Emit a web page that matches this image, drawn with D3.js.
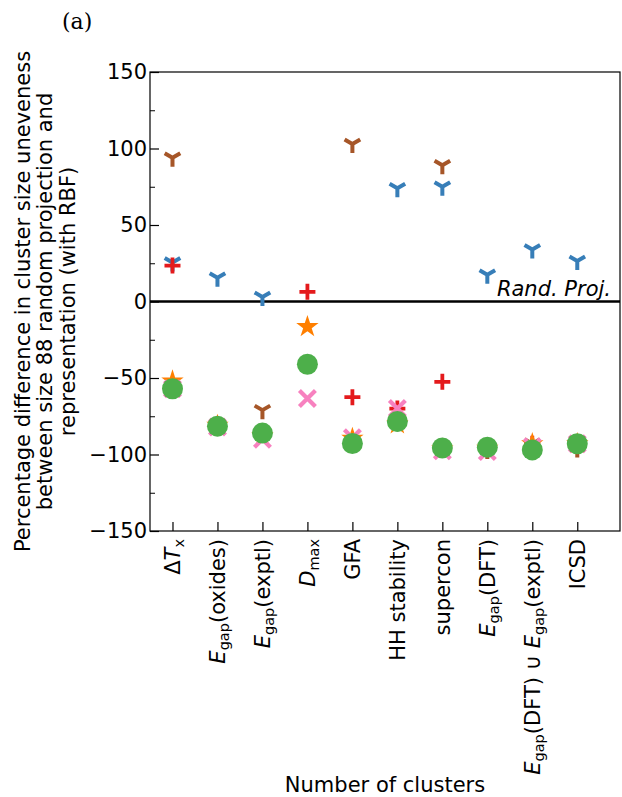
<!DOCTYPE html>
<html>
<head>
<meta charset="utf-8">
<script src="https://cdn.jsdelivr.net/npm/d3@7"></script>
<style>
  body { margin: 0; background: #fff; }
  svg { display: block; font-family: "DejaVu Sans", sans-serif; }
</style>
</head>
<body>
<div id="chart"></div>
<script>
// categories (mini markup: <i>..</i> italic, <sub>..</sub> subscript)
const categories = [
    "Δ<i>T</i><sub>x</sub>",
    "<i>E</i><sub>gap</sub>(oxides)",
    "<i>E</i><sub>gap</sub>(exptl)",
    "<i>D</i><sub>max</sub>",
    "GFA",
    "HH stability",
    "supercon",
    "<i>E</i><sub>gap</sub>(DFT)",
    "<i>E</i><sub>gap</sub>(DFT) ∪ <i>E</i><sub>gap</sub>(exptl)",
    "ICSD"
];

// series values (null = not shown)
const brownTri  = [94, -82, -71, null, 103, -79, 89, -97, -93, -96];
const blueTri   = [25.5, 15.5, 3, null, null, 74, 75, 17.5, 34, 26.5];
const redPlus   = [23.5, -82, -86, 6.3, -62.5, -70, -52.5, -95, -93, -93];
const orangeStar = [-52, -81, -88, -16.5, -89.5, -80, -96.5, -96, -93, -93];
const pinkX     = [-57, -82, -90, -63.4, -89, -70, -97.5, -98, -95, -93];
const greenDot  = [-57, -81.5, -86, -41, -92.8, -78.4, -95.7, -95.2, -97, -93];

const yTicks = [-150, -100, -50, 0, 50, 100, 150];
const yMinorTicks = [-125, -75, -25, 25, 75, 125];

const W = 622, H = 797;
const margin = {top: 72, right: 2, bottom: 266, left: 150};
const width = W - margin.left - margin.right;
const height = H - margin.top - margin.bottom;
const fs = 21;

const svg = d3.select("#chart").append("svg")
    .attr("width", W)
    .attr("height", H);

const x = d3.scaleLinear()
    .domain([-0.5, 9.95])
    .range([margin.left, margin.left + width]);

const y = d3.scaleLinear()
    .domain([-150, 150])
    .range([margin.top + height, margin.top]);

const g = svg.append("g");

// zero line
g.append("line")
    .attr("x1", x(-0.5)).attr("x2", x(9.95))
    .attr("y1", y(0)).attr("y2", y(0))
    .attr("stroke", "#000")
    .attr("stroke-width", 2.5);

g.append("text")
    .attr("x", 611)
    .attr("y", y(0) - 6)
    .attr("text-anchor", "end")
    .attr("font-style", "italic")
    .attr("font-size", fs)
    .text("Rand. Proj.");

// marker paths
const triDown = r => {
    const a = 0.866 * r, b = 0.5 * r;
    return `M0,0L0,${r}M0,0L${-a},${-b}M0,0L${a},${-b}`;
};
const plus = r => `M${-r},0L${r},0M0,${-r}L0,${r}`;
const cross = r => `M${-r},${-r}L${r},${r}M${-r},${r}L${r},${-r}`;

function strokeSeries(data, color, path, sw) {
    g.append("g").selectAll("path")
        .data(data.map((v, i) => [i, v]).filter(d => d[1] !== null))
        .enter().append("path")
        .attr("transform", d => `translate(${x(d[0])},${y(d[1])})`)
        .attr("d", path)
        .attr("fill", "none")
        .attr("stroke", color)
        .attr("stroke-width", sw);
}

strokeSeries(brownTri, "#a65628", triDown(9), 4);
strokeSeries(blueTri, "#377eb8", triDown(9), 4);
strokeSeries(redPlus, "#e41a1c", plus(8), 3.8);

g.append("g").selectAll("path")
    .data(orangeStar.map((v, i) => [i, v]))
    .enter().append("path")
    .attr("transform", d => `translate(${x(d[0])},${y(d[1])})`)
    .attr("d", d3.symbol(d3.symbolStar, 155))
    .attr("fill", "#ff7f00");

strokeSeries(pinkX, "#f781bf", cross(8), 4.2);

g.append("g").selectAll("circle")
    .data(greenDot)
    .enter().append("circle")
    .attr("cx", (d, i) => x(i))
    .attr("cy", d => y(d))
    .attr("r", 10.5)
    .attr("fill", "#4daf4a");

// frame
svg.append("rect")
    .attr("x", margin.left).attr("y", margin.top)
    .attr("width", width).attr("height", height)
    .attr("fill", "none")
    .attr("stroke", "#000")
    .attr("stroke-width", 1.2);

// y axis
const yAxis = svg.append("g")
    .attr("transform", `translate(${margin.left},0)`)
    .call(d3.axisLeft(y).tickValues(yTicks).tickSizeInner(-9).tickSizeOuter(0).tickPadding(4)
        .tickFormat(d => d < 0 ? "−" + Math.abs(d) : d));
yAxis.select(".domain").remove();
yAxis.selectAll("text").attr("font-size", fs).attr("fill", "#000")
    .attr("x", -3).attr("font-family", "DejaVu Sans");
yAxis.selectAll("line").attr("stroke-width", 1.2);

const yMinor = svg.append("g")
    .attr("transform", `translate(${margin.left},0)`)
    .call(d3.axisLeft(y).tickValues(yMinorTicks).tickSizeInner(-5).tickSizeOuter(0).tickFormat(""));
yMinor.select(".domain").remove();
yMinor.selectAll("line").attr("stroke-width", 1);

// x axis
const xAxis = svg.append("g")
    .attr("transform", `translate(0,${margin.top + height})`)
    .call(d3.axisBottom(x).tickValues(d3.range(categories.length)).tickSizeInner(-9).tickSizeOuter(0).tickFormat(""));
xAxis.select(".domain").remove();
xAxis.selectAll("line").attr("stroke-width", 1.2);

// x tick labels, rotated, with italic/subscript parts
function addRich(textSel, markup) {
    const parts = markup.split(/(<i>.*?<\/i>|<sub>.*?<\/sub>)/).filter(s => s.length);
    let shifted = false;
    parts.forEach(p => {
        const ts = textSel.append("tspan");
        if (p.startsWith("<sub>")) {
            ts.text(p.slice(5, -6)).attr("font-size", 14.5).attr("dy", 4.5);
            shifted = true;
        } else {
            if (p.startsWith("<i>")) {
                ts.text(p.slice(3, -4)).attr("font-style", "italic");
            } else {
                ts.text(p);
            }
            if (shifted) { ts.attr("dy", -4.5); shifted = false; }
        }
    });
}

categories.forEach((c, i) => {
    const t = svg.append("text")
        .attr("transform", `translate(${x(i) + 7.5},${margin.top + height + 8}) rotate(-90)`)
        .attr("text-anchor", "end")
        .attr("font-size", fs)
        .attr("fill", "#000");
    addRich(t, c);
});

// axis titles
const yLabel = ["Percentage difference in cluster size uneveness",
                "between size 88 random projection and",
                "representation (with RBF)"];
yLabel.forEach((s, k) => {
    svg.append("text")
        .attr("transform", `translate(${29.5 + k * 22.5},${y(0)}) rotate(-90)`)
        .attr("text-anchor", "middle")
        .attr("font-size", fs)
        .text(s);
});

svg.append("text")
    .attr("x", margin.left + width / 2)
    .attr("y", 792)
    .attr("text-anchor", "middle")
    .attr("font-size", fs)
    .text("Number of clusters");

svg.append("text")
    .attr("x", 62)
    .attr("y", 29)
    .attr("font-family", "'DejaVu Serif', serif")
    .attr("font-size", 22)
    .text("(a)");
</script>
</body>
</html>
